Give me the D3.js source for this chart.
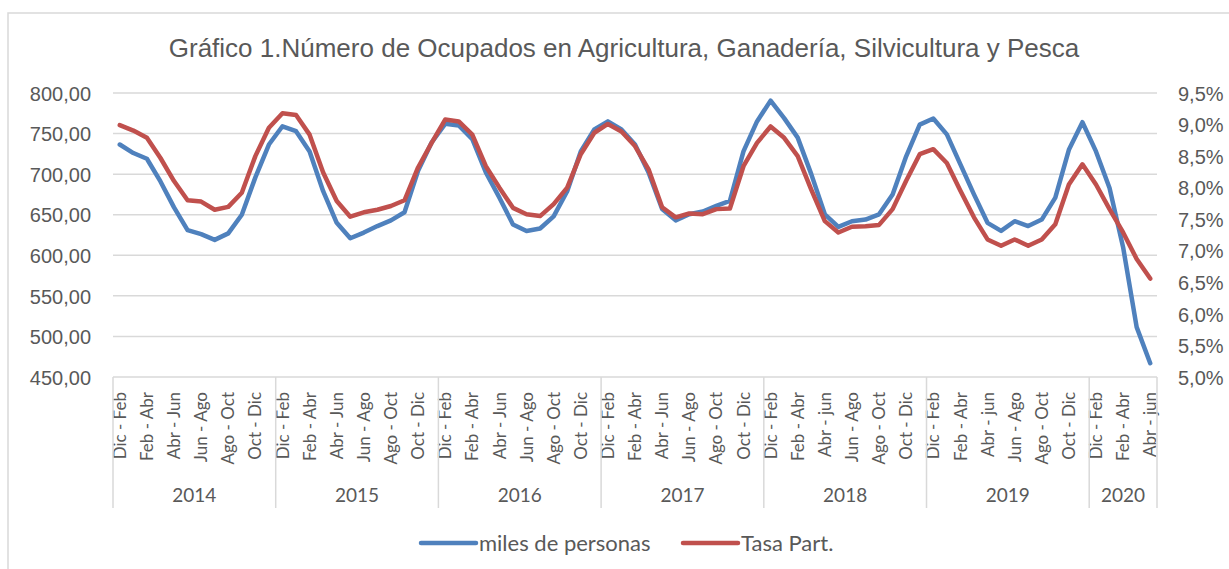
<!DOCTYPE html>
<meta charset="utf-8">
<style>
body { margin: 0; background: #fff; }
.title { font-family: "Liberation Sans", Arial, sans-serif; font-size: 26px; fill: #595959; }
.val { font-family: "Liberation Sans", Arial, sans-serif; font-size: 20px; fill: #595959; }
.cat { font-family: Lato, "Open Sans", sans-serif; font-size: 17px; fill: #595959; }
.yr { font-family: Lato, "Open Sans", sans-serif; font-size: 19px; fill: #595959; }
.leg { font-family: Lato, "Open Sans", sans-serif; font-size: 22px; fill: #595959; }
.grid line { stroke: #d9d9d9; stroke-width: 1.5; }
</style>
<body>
<svg width="1229" height="569"></svg>
<script src="https://cdn.jsdelivr.net/npm/d3@7"></script>
<script>

// categorias (trimestres moviles)
var periodos = ["Dic - Feb","Ene - Mar","Feb - Abr","Mar - May","Abr - Jun","May - Jul",
                "Jun - Ago","Jul - Sep","Ago - Oct","Sep - Nov","Oct - Dic","Nov - Ene"];
var periodosB = ["Dic - Feb","Ene - Mar","Feb - Abr","Mar - May","Abr - jun","May - Jul",
                 "Jun - Ago","Jul - Sep","Ago - Oct","Sep - Nov","Oct - Dic","Nov - Ene"];
var years = ["2014","2015","2016","2017","2018","2019","2020"];
var yearCounts = [12, 12, 12, 12, 12, 12, 5];

// miles de personas
var ocupados = [
  736.5, 726, 719, 691, 659, 631, 626, 619, 627, 650, 696, 736.5,
  759, 753, 728, 679, 640, 621, 628, 636, 643, 653, 704, 739,
  762, 760, 743, 702, 671, 638, 630, 633, 648, 679, 728, 755,
  765, 755, 736.5, 702, 657, 643, 650.5, 654, 661, 667, 728, 765,
  790.6, 769, 745, 700, 650.5, 635, 642, 644, 650.5, 675, 722, 761,
  768.5, 749, 712, 675, 640, 630, 642, 636, 644, 671, 730, 764,
  728, 683, 610, 511.5, 467
];

// Tasa Part. (%)
var tasa = [
  8.99, 8.905, 8.79, 8.47, 8.105, 7.80, 7.78, 7.65, 7.695, 7.92, 8.5, 8.95,
  9.18, 9.15, 8.84, 8.24, 7.79, 7.54, 7.61, 7.65, 7.71, 7.80, 8.32, 8.71,
  9.08, 9.05, 8.84, 8.34, 8.0, 7.68, 7.58, 7.55, 7.74, 8.0, 8.53, 8.87,
  9.01, 8.89, 8.66, 8.29, 7.69, 7.53, 7.59, 7.58, 7.66, 7.67, 8.34, 8.71,
  8.97, 8.79, 8.5, 7.97, 7.47, 7.29, 7.38, 7.39, 7.41, 7.66, 8.11, 8.53,
  8.61, 8.39, 7.95, 7.53, 7.18, 7.08, 7.18, 7.08, 7.18, 7.42, 8.05, 8.37,
  8.05, 7.66, 7.29, 6.87, 6.56
];

var leftTicks = [450, 500, 550, 600, 650, 700, 750, 800];
var rightTicks = [5.0, 5.5, 6.0, 6.5, 7.0, 7.5, 8.0, 8.5, 9.0, 9.5];

var blue = "#4f81bd", red = "#c0504d";

var cats = [];
years.forEach(function(y, k) {
  var p = k < 4 ? periodos : periodosB;
  for (var i = 0; i < yearCounts[k]; i++) cats.push({ id: y + "|" + i, label: p[i], year: y });
});

var svg = d3.select("svg");
var plotLeft = 113, plotRight = 1157, plotTop = 93, plotBottom = 377;

var es = d3.formatLocale({ decimal: ",", thousands: ".", grouping: [3], currency: ["", "€"] });

var x = d3.scaleBand().domain(cats.map(function(d) { return d.id; })).range([plotLeft, plotRight]);
var y = d3.scaleLinear().domain([450, 800]).range([plotBottom, plotTop]);
var y2 = d3.scaleLinear().domain([5, 9.5]).range([plotBottom, plotTop]);

// marco
svg.append("rect")
    .attr("x", 8).attr("y", 13).attr("width", 1240).attr("height", 600)
    .attr("fill", "none").attr("stroke", "#d9d9d9").attr("stroke-width", 1.5);

svg.append("text").attr("class", "title")
    .attr("x", 624).attr("y", 57).attr("text-anchor", "middle")
    .text("Gráfico 1.Número de Ocupados en Agricultura, Ganadería, Silvicultura y Pesca");

// lineas de division
svg.append("g").attr("class", "grid")
  .selectAll("line").data(leftTicks).enter().append("line")
    .attr("x1", plotLeft).attr("x2", plotRight)
    .attr("y1", function(d) { return y(d); }).attr("y2", function(d) { return y(d); });

// eje izquierdo
svg.append("g")
    .attr("transform", "translate(" + (plotLeft - 22) + ",0)")
    .call(d3.axisLeft(y).tickValues(leftTicks).tickSize(0).tickPadding(0).tickFormat(es.format(".2f")))
    .call(function(g) { g.select(".domain").remove(); })
    .selectAll("text").attr("class", "val").attr("fill", null).attr("dy", "0.36em");

// eje derecho
svg.append("g")
    .attr("transform", "translate(" + (plotRight + 21) + ",0)")
    .call(d3.axisRight(y2).tickValues(rightTicks).tickSize(0).tickPadding(0)
      .tickFormat(function(d) { return es.format(".1f")(d) + "%"; }))
    .call(function(g) { g.select(".domain").remove(); })
    .selectAll("text").attr("class", "val").attr("fill", null).attr("dy", "0.36em");

// eje x: etiquetas de categoria
var catG = svg.append("g");
catG.selectAll("text")
  .data(cats.filter(function(d, i) { return i % 2 === 0; }))
  .enter().append("text")
    .attr("class", "cat")
    .attr("text-anchor", "end")
    .attr("transform", function(d) {
      return "translate(" + (x(d.id) + x.bandwidth() / 2) + "," + (plotBottom + 15) + ") rotate(-90)";
    })
    .attr("dy", "0.36em")
    .text(function(d) { return d.label; });

// separadores de año
var bounds = [];
var acc = 0;
years.forEach(function(yv, k) {
  var x0 = x(cats[acc].id), x1 = x(cats[acc + yearCounts[k] - 1].id) + x.bandwidth();
  bounds.push({ year: yv, x0: x0, x1: x1 });
  acc += yearCounts[k];
});

var sep = svg.append("g").attr("class", "grid");
sep.selectAll("line").data([plotLeft].concat(bounds.map(function(b) { return b.x1; })))
  .enter().append("line")
    .attr("x1", function(d) { return d; }).attr("x2", function(d) { return d; })
    .attr("y1", plotBottom).attr("y2", 508);

svg.append("g").selectAll("text").data(bounds).enter().append("text")
    .attr("class", "yr")
    .attr("text-anchor", "middle")
    .attr("x", function(b) { return (b.x0 + b.x1) / 2; })
    .attr("y", 502)
    .text(function(b) { return b.year; });

// series
var lineL = d3.line()
    .x(function(d, i) { return x(cats[i].id) + x.bandwidth() / 2; })
    .y(function(d) { return y(d); });
var lineR = d3.line()
    .x(function(d, i) { return x(cats[i].id) + x.bandwidth() / 2; })
    .y(function(d) { return y2(d); });

svg.append("path").datum(ocupados)
    .attr("d", lineL).attr("fill", "none")
    .attr("stroke", blue).attr("stroke-width", 4.5).attr("stroke-linejoin", "round").attr("stroke-linecap", "round");

svg.append("path").datum(tasa)
    .attr("d", lineR).attr("fill", "none")
    .attr("stroke", red).attr("stroke-width", 4.5).attr("stroke-linejoin", "round").attr("stroke-linecap", "round");

// leyenda
var legend = [
  { name: "miles de personas", color: blue, x: 421 },
  { name: "Tasa Part.", color: red, x: 683 }
];
var lg = svg.append("g").selectAll("g").data(legend).enter().append("g")
    .attr("transform", function(d) { return "translate(" + d.x + ",543)"; });
lg.append("line").attr("x1", 0).attr("x2", 55).attr("y1", 0).attr("y2", 0)
    .attr("stroke", function(d) { return d.color; }).attr("stroke-width", 4.5).attr("stroke-linecap", "round");
lg.append("text").attr("class", "leg").attr("x", 58).attr("dy", "0.35em")
    .text(function(d) { return d.name; });

</script>
</body>
